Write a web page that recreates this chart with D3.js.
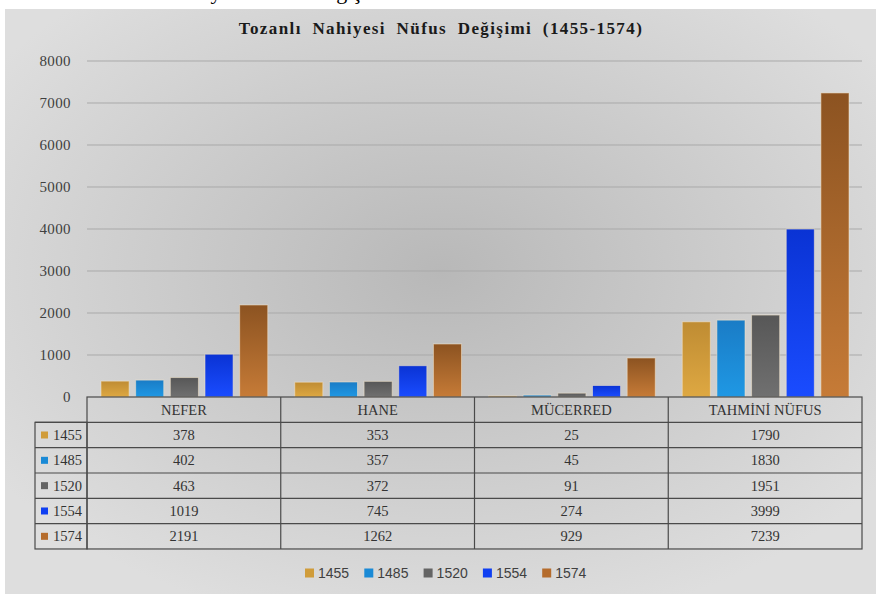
<!DOCTYPE html>
<html>
<head>
<meta charset="utf-8">
<script src="https://cdn.jsdelivr.net/npm/d3@7"></script>
<style>
body { margin: 0; background: #fff; }
</style>
</head>
<body>
<div id="chart"></div>
<script>
// data
var categories = ["NEFER", "HANE", "MÜCERRED", "TAHMİNİ NÜFUS"];
var years = ["1455", "1485", "1520", "1554", "1574"];
var v1455 = [378, 353, 25, 1790];
var v1485 = [402, 357, 45, 1830];
var v1520 = [463, 372, 91, 1951];
var v1554 = [1019, 745, 274, 3999];
var v1574 = [2191, 1262, 929, 7239];
var yTicks = [0, 1000, 2000, 3000, 4000, 5000, 6000, 7000, 8000];
var title = "Tozanlı Nahiyesi Nüfus Değişimi (1455-1574)";

var series = [v1455, v1485, v1520, v1554, v1574];
var colors = ["#d09c3a", "#1a8ad6", "#646464", "#0f3ff2", "#b56c2c"];
var topColors = ["#bf8c33", "#1a7cc6", "#575757", "#0a33d4", "#8c5321"];
var botColors = ["#dea842", "#1f98e4", "#707070", "#1a4cff", "#c67b37"];

var W = 876, H = 594;
var plotLeft = 87, plotRight = 862, plotTop = 61, base = 397;
var rowH = 25.33;

var svg = d3.select("#chart").append("svg")
    .attr("width", W)
    .attr("height", H);

var defs = svg.append("defs");
var bg = defs.append("radialGradient").attr("id", "bg")
    .attr("cx", "50%").attr("cy", "45%").attr("r", "62%");
bg.append("stop").attr("offset", "0%").attr("stop-color", "#b8b8b8");
bg.append("stop").attr("offset", "100%").attr("stop-color", "#dedede");

years.forEach(function (yr, i) {
    var g = defs.append("linearGradient").attr("id", "g" + yr)
        .attr("x1", 0).attr("y1", 0).attr("x2", 0).attr("y2", 1);
    g.append("stop").attr("offset", "0%").attr("stop-color", topColors[i]);
    g.append("stop").attr("offset", "100%").attr("stop-color", botColors[i]);
});

// caption above the chart, cut off by the page edge
svg.append("text")
    .attr("x", 12).attr("y", -1)
    .style("font-family", "Liberation Serif")
    .style("font-size", "22px")
    .text("Grafik 1. Tozanlı Nahiyesi Nüfus Değişimi");

svg.append("rect")
    .attr("x", 5).attr("y", 9)
    .attr("width", W - 5).attr("height", H - 9)
    .attr("fill", "url(#bg)");

svg.append("text")
    .attr("x", 441).attr("y", 34)
    .attr("text-anchor", "middle")
    .style("font-family", "Liberation Serif")
    .style("font-weight", "bold")
    .style("font-size", "17px")
    .style("letter-spacing", "1.4px")
    .style("word-spacing", "5px")
    .style("fill", "#1a1a1a")
    .text(title);

var y = d3.scaleLinear().domain([0, 8000]).range([base, plotTop]);
var x0 = d3.scaleBand().domain(categories).range([plotLeft, plotRight]);
var x1 = d3.scaleBand().domain(years).range([14, x0.bandwidth() - 13]).paddingInner(0.19);

// gridlines
svg.append("g").selectAll("line")
    .data(yTicks.filter(function (d) { return d > 0; }))
    .enter().append("line")
    .attr("x1", plotLeft).attr("x2", plotRight)
    .attr("y1", function (d) { return y(d); })
    .attr("y2", function (d) { return y(d); })
    .style("stroke", "#a9a9a9")
    .style("stroke-width", 1);

// y axis labels
var yAxis = d3.axisLeft(y).tickValues(yTicks).tickFormat(d3.format("d")).tickSize(0).tickPadding(0);
var ya = svg.append("g")
    .attr("transform", "translate(71,0)")
    .call(yAxis);
ya.select(".domain").remove();
ya.selectAll("text")
    .style("font-family", "Liberation Serif")
    .style("font-size", "15px")
    .style("letter-spacing", "0.4px")
    .style("fill", "#404040");

// bars
var groups = svg.append("g").selectAll("g")
    .data(categories)
    .enter().append("g")
    .attr("transform", function (d) { return "translate(" + x0(d) + ",0)"; });

groups.selectAll("rect")
    .data(function (d, ci) { return years.map(function (yr, si) { return { yr: yr, v: series[si][ci] }; }); })
    .enter().append("rect")
    .attr("x", function (d) { return x1(d.yr); })
    .attr("width", x1.bandwidth())
    .attr("y", function (d) { return y(d.v); })
    .attr("height", function (d) { return base - y(d.v); })
    .attr("fill", function (d) { return "url(#g" + d.yr + ")"; })
    .style("stroke", "#f4e6cc")
    .style("stroke-opacity", 0.55)
    .style("stroke-width", 1);

// data table
var tbl = svg.append("g");
var lineStyle = function (sel) {
    return sel.style("stroke", "#4a4a4a").style("stroke-width", 1.2).attr("fill", "none");
};
lineStyle(tbl.append("rect")
    .attr("x", plotLeft).attr("y", base)
    .attr("width", plotRight - plotLeft).attr("height", rowH * 6));
lineStyle(tbl.append("rect")
    .attr("x", 35).attr("y", base + rowH)
    .attr("width", plotLeft - 35).attr("height", rowH * 5));
years.forEach(function (yr, i) {
    lineStyle(tbl.append("line")
        .attr("x1", 35).attr("x2", plotRight)
        .attr("y1", base + rowH * (i + 1)).attr("y2", base + rowH * (i + 1)));
});
categories.forEach(function (c, i) {
    if (i > 0) {
        lineStyle(tbl.append("line")
            .attr("x1", x0(c)).attr("x2", x0(c))
            .attr("y1", base).attr("y2", base + rowH * 6));
    }
});

var cellFont = function (sel) {
    return sel.style("font-family", "Liberation Serif")
        .style("font-size", "14.5px")
        .style("fill", "#333");
};

cellFont(tbl.selectAll(".hdr").data(categories).enter().append("text")
    .attr("class", "hdr")
    .attr("x", function (d) { return x0(d) + x0.bandwidth() / 2; })
    .attr("y", base + rowH / 2 + 5)
    .attr("text-anchor", "middle")
    .text(function (d) { return d; }));

years.forEach(function (yr, si) {
    var ry = base + rowH * (si + 1);
    tbl.append("rect")
        .attr("x", 41).attr("y", ry + rowH / 2 - 3.5)
        .attr("width", 7).attr("height", 7)
        .attr("fill", colors[si]);
    cellFont(tbl.append("text")
        .attr("x", 53).attr("y", ry + rowH / 2 + 5)
        .text(yr));
    cellFont(tbl.selectAll(".c" + yr).data(categories).enter().append("text")
        .attr("x", function (d) { return x0(d) + x0.bandwidth() / 2; })
        .attr("y", ry + rowH / 2 + 5)
        .attr("text-anchor", "middle")
        .text(function (d, ci) { return series[si][ci]; }));
});

// legend
var lg = svg.append("g").selectAll("g")
    .data(years)
    .enter().append("g")
    .attr("transform", function (d, i) { return "translate(" + (305 + i * 59.3) + ",573)"; });
lg.append("rect")
    .attr("x", 0).attr("y", -4.5)
    .attr("width", 9).attr("height", 9)
    .attr("fill", function (d, i) { return colors[i]; });
lg.append("text")
    .attr("x", 13).attr("y", 5)
    .style("font-family", "Liberation Sans")
    .style("font-size", "14px")
    .style("fill", "#404040")
    .text(function (d) { return d; });
</script>
</body>
</html>
